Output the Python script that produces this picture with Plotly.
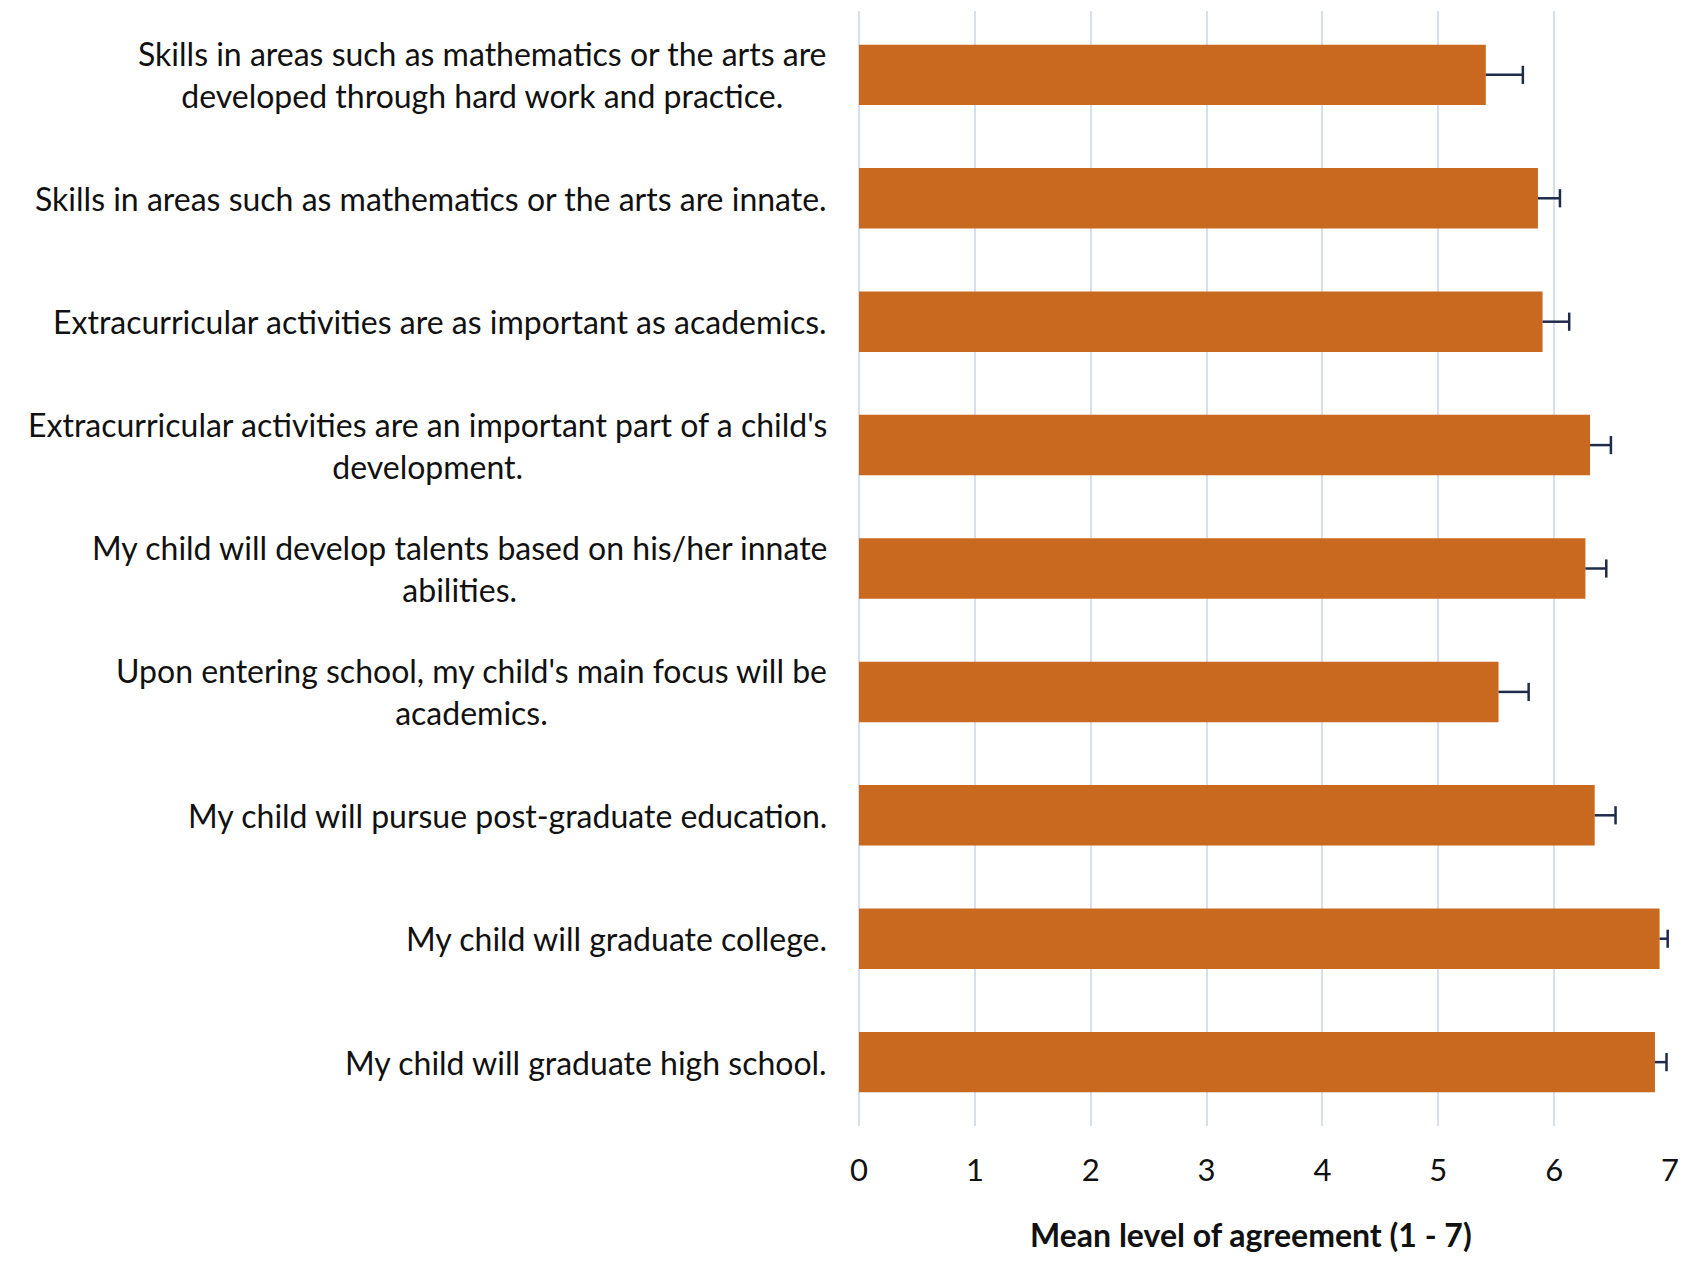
import plotly.graph_objects as go

# statements, top to bottom
labels = [
    "Skills in areas such as mathematics or the arts are<br>developed through hard work and practice.",
    "Skills in areas such as mathematics or the arts are innate.",
    "Extracurricular activities are as important as academics.",
    "Extracurricular activities are an important part of a child's<br>development.",
    "My child will develop talents based on his/her innate<br>abilities.",
    "Upon entering school, my child's main focus will be<br>academics.",
    "My child will pursue post-graduate education.",
    "My child will graduate college.",
    "My child will graduate high school.",
]
means = [5.41, 5.86, 5.90, 6.31, 6.27, 5.52, 6.35, 6.91, 6.87]
errors = [0.32, 0.19, 0.23, 0.18, 0.18, 0.26, 0.18, 0.07, 0.10]
cats = ["c%d" % i for i in range(len(labels))]
x_ticks = [0, 1, 2, 3, 4, 5, 6, 7]
x_title = "Mean level of agreement (1 - 7)"

bar_col = "#C8691F"
err_col = "#1E2B4A"
grid_col = "#D9DEEC"
fnt = "Lato"

fig = go.Figure()
fig.add_trace(go.Bar(
    x=means, y=cats, orientation="h",
    marker=dict(color=bar_col, line=dict(width=0)),
    showlegend=False, hoverinfo="x"
))

# one-sided error bars (plus direction only)
ex, ey = [], []
for c, m, e in zip(cats, means, errors):
    ex += [m, m + e, None]
    ey += [c, c, None]
fig.add_trace(go.Scatter(
    x=ex, y=ey, mode="lines",
    line=dict(color=err_col, width=2.5),
    showlegend=False, hoverinfo="skip"
))
fig.add_trace(go.Scatter(
    x=[m + e for m, e in zip(means, errors)], y=cats, mode="markers",
    marker=dict(symbol="line-ns", size=13, line=dict(color=err_col, width=2.5)),
    showlegend=False, hoverinfo="skip"
))

for c, t in zip(cats, labels):
    fig.add_annotation(
        x=-0.037, xref="paper", y=c, yref="y",
        text=t, showarrow=False, xanchor="right", yanchor="middle",
        align="center", font=dict(family=fnt, size=32, color="#111111")
    )

# axis title placed by hand (slightly left of centre like the original)
fig.add_annotation(
    x=0.483, xref="paper", y=-0.097, yref="paper",
    text="<b>" + x_title + "</b>", showarrow=False,
    xanchor="center", yanchor="middle",
    font=dict(family=fnt, size=32, color="#111111")
)

fig.update_layout(
    width=1700, height=1283,
    margin=dict(l=851, r=38, t=3, b=165),
    plot_bgcolor="white", paper_bgcolor="white",
    bargap=0.51,
    font=dict(family=fnt, size=31, color="#111111"),
)
fig.update_xaxes(
    range=[0, 7], tickvals=x_ticks, showgrid=True, gridcolor=grid_col, gridwidth=2,
    zeroline=True, zerolinecolor=grid_col, zerolinewidth=2,
    showline=False, ticks="", ticklabelstandoff=23,
    tickfont=dict(size=31),
)
fig.update_yaxes(
    categoryorder="array", categoryarray=cats, autorange="reversed",
    showticklabels=False, showgrid=False, zeroline=False, showline=False, ticks="",
)

fig.write_html("out.html")
